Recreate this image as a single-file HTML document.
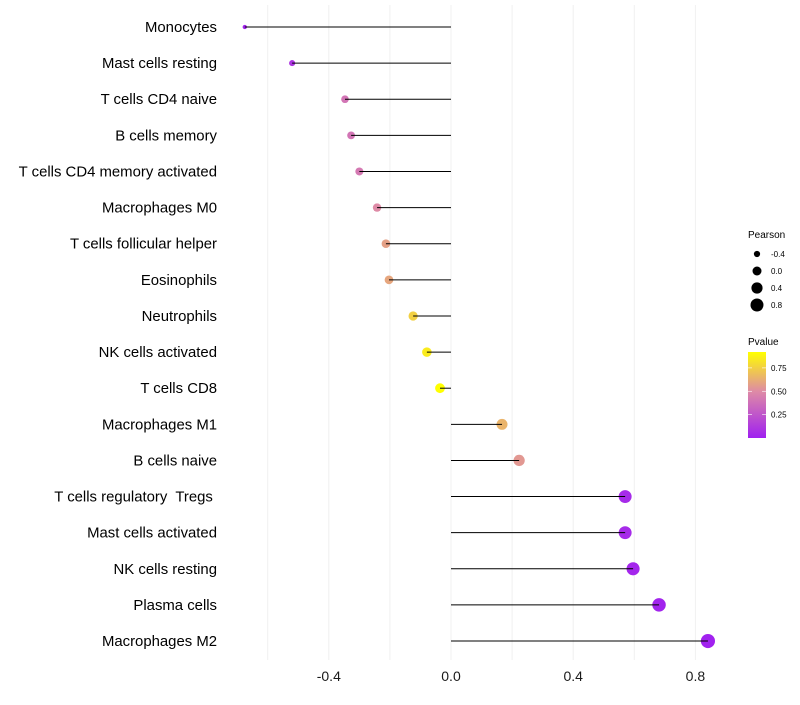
<!DOCTYPE html>
<html><head><meta charset="utf-8"><style>
body{margin:0;background:#fff;font-family:"Liberation Sans",sans-serif}
</style></head><body>
<svg id="chart" width="800" height="700" font-family="Liberation Sans, sans-serif">
<g id="grid"></g><g id="marks"></g><g id="labels"></g>
<g>
<text x="748" y="238" font-size="10">Pearson</text>
<g id="sizeLegend"></g>
</g>
<g>
<text x="748" y="345" font-size="10">Pvalue</text>
<defs><linearGradient id="pg" x1="0" y1="1" x2="0" y2="0">
<stop offset="0" stop-color="#a020f0"/><stop offset="0.54" stop-color="#de8aa6"/><stop offset="1" stop-color="#ffff00"/>
</linearGradient></defs>
<rect x="748" y="352" width="18" height="86" fill="url(#pg)"/>
<g id="cbTicks"></g>
</g>
</svg>
<script>
const categories=["Monocytes","Mast cells resting","T cells CD4 naive","B cells memory","T cells CD4 memory activated","Macrophages M0","T cells follicular helper","Eosinophils","Neutrophils","NK cells activated","T cells CD8","Macrophages M1","B cells naive","T cells regulatory\u00a0 Tregs\u00a0","Mast cells activated","NK cells resting","Plasma cells","Macrophages M2"];
const pearson=[-0.675,-0.52,-0.347,-0.327,-0.30,-0.242,-0.213,-0.203,-0.124,-0.079,-0.036,0.167,0.223,0.57,0.57,0.596,0.681,0.841];
const pvalues=[0.02,0.1,0.4,0.4,0.42,0.5,0.58,0.6,0.75,0.85,0.92,0.65,0.55,0.05,0.05,0.03,0.02,0.01];
const xTicks=[-0.4,0.0,0.4,0.8];
const xTickLabels=["-0.4","0.0","0.4","0.8"];
const sizeLegendVals=[-0.4,0.0,0.4,0.8];
const cbTickVals=[0.25,0.5,0.75];

const NS="http://www.w3.org/2000/svg";
const x=v=>451+v*305.5;
const y=i=>27+i*36.12;
const rad=v=>Math.sqrt(Math.max(3,25+30*v));
function col(p){
  const stops=[[0,[160,32,240]],[0.5,[222,138,166]],[0.92,[255,255,0]]];
  p=Math.max(0,Math.min(0.92,p));
  for(let k=0;k<stops.length-1;k++){const[a,ca]=stops[k],[b,cb]=stops[k+1];
    if(p<=b){const t=(p-a)/(b-a);return`rgb(${ca.map((c,j)=>Math.round(c+(cb[j]-c)*t)).join(",")})`;}}
  return"rgb(255,255,0)";
}
function mk(t,a,parent){const e=document.createElementNS(NS,t);for(const k in a)e.setAttribute(k,a[k]);document.getElementById(parent).appendChild(e);return e;}
for(let g=-0.6;g<=0.81;g+=0.2){
  const l=mk("line",{x1:x(g),x2:x(g),y1:5,y2:660,stroke:"#f0f0f0","stroke-width":1},"grid");
  
  
}
xTicks.forEach((t,i)=>{
  const e=mk("text",{x:x(t),y:681,"font-size":14,"text-anchor":"middle",fill:"#1a1a1a"},"labels");e.textContent=xTickLabels[i];
  
  
});
categories.forEach((c,i)=>{
  const t=mk("text",{x:217,y:y(i)+5,"font-size":14.9,"text-anchor":"end",fill:"#000"},"labels");t.textContent=c;
  
  
  const p=mk("circle",{cx:x(pearson[i]),cy:y(i),r:rad(pearson[i]),fill:col(pvalues[i])},"marks");
  
  
});
categories.forEach((c,i)=>{
  const l=mk("line",{x1:x(0),x2:x(pearson[i]),y1:y(i),y2:y(i),stroke:"#000","stroke-width":1},"marks");
  
  
});
sizeLegendVals.forEach((v,i)=>{
  const cy=254+i*17;
  const c=mk("circle",{cx:757,cy:cy,r:rad(v)-0.5,fill:"#000"},"sizeLegend");
  
  
  const t=mk("text",{x:771,y:cy+3,"font-size":8},"sizeLegend");t.textContent=v.toFixed(1);
  
  
});
cbTickVals.forEach(v=>{
  const cy=438-(v/0.92)*86;
  mk("line",{x1:748,x2:752,y1:cy,y2:cy,stroke:"#fff","stroke-width":0.6},"cbTicks");
  mk("line",{x1:762,x2:766,y1:cy,y2:cy,stroke:"#fff","stroke-width":0.6},"cbTicks");
  const t=mk("text",{x:771,y:cy+3,"font-size":8},"cbTicks");t.textContent=v.toFixed(2);
  
  
});
</script>
</body></html>
